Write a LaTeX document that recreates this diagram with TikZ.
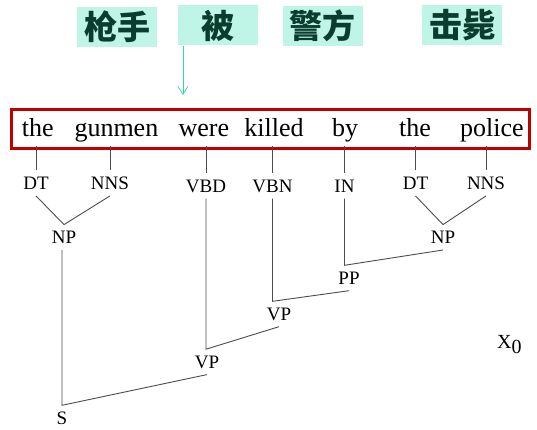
\documentclass[tikz,border=0pt]{standalone}
\usepackage{fontspec}
\setmainfont{Liberation Serif}
\newfontfamily\tms{Liberation Serif}
\newfontfamily\cjk{Noto Sans CJK SC}
\usetikzlibrary{arrows.meta,calc,positioning}
\definecolor{boxred}{HTML}{C00000}
\definecolor{zhfill}{HTML}{BFF5E6}
\definecolor{zhtext}{HTML}{0B3D2E}
\definecolor{zharrow}{HTML}{33D6A5}
\tikzset{
  word/.style={anchor=base,inner sep=0pt,text depth=9pt,font=\tms\fontsize{26}{28}\selectfont},
  tag/.style={anchor=base,inner xsep=1pt,inner ysep=6pt,text height=13pt,text depth=0pt,font=\tms\fontsize{19}{21}\selectfont},
  zh/.style={fill=zhfill,text=zhtext,minimum width=80pt,minimum height=40pt,inner sep=0pt,font=\cjk\bfseries\fontsize{33}{35}\selectfont},
  branch/.style={draw=black!70,line width=0.9pt}
}

\begin{document}
\begin{tikzpicture}[x=1pt,y=-1pt]
\useasboundingbox (0,0) rectangle (537,430);
% glosses
\node[zh] (Z1) at (117,27) {枪手}; \node[zh] (Z2) at (218,25.5) {被};
\node[zh] (Z3) at (322.5,26) {警方}; \node[zh] (Z4) at (462,25.5) {击毙};
\coordinate (tip) at (183,95);
\draw[zharrow,line width=0.7pt,-{Straight Barb[length=8pt,width=10pt]}] (Z2.south west -| tip) -- (tip);
% sentence
\node[draw=boxred,line width=3pt,minimum width=518pt,minimum height=39pt,inner sep=0pt] (sent) at (270.5,129.5) {};
\node[word] (w1) at (37.7,137) {the}; \node[word] (w2) at (116.4,137) {gunmen};
\node[word] (w3) at (203.8,137) {were}; \node[word] (w4) at (274,137) {killed};
\node[word] (w5) at (345,137) {by}; \node[word] (w6) at (415,137) {the};
\node[word] (w7) at (492,137) {police};
% tags
\node[tag] (t1) at (36,189.7) {DT}; \node[tag] (t2) at (110,189.7) {NNS};
\node[tag] (t3) at (206,192.5) {VBD}; \node[tag] (t4) at (272.5,192.5) {VBN};
\node[tag] (t5) at (344.5,192.5) {IN}; \node[tag] (t6) at (415.5,189.7) {DT};
\node[tag] (t7) at (486,189.7) {NNS};
\foreach \i in {1,...,7} \draw[branch] (t\i.north |- w\i.south) -- (t\i.north);
% phrases
\node[tag] (np1) at (64,243.8) {NP}; \node[tag] (np2) at (443,243.8) {NP};
\node[tag] (pp) at (349,284.5) {PP}; \node[tag] (vp1) at (279,320.5) {VP};
\node[tag] (vp2) at (207,368.4) {VP}; \node[tag] (s) at (62,424.5) {S};
\draw[branch] (t1.south) -- (np1.north) -- (t2.south);
\draw[branch] (t6.south) -- (np2.north) -- (t7.south);
\draw[branch] (t5.south) -- (t5.south |- pp.north) -- (np2.south);
\draw[branch] (t4.south) -- (t4.south |- vp1.north) -- (pp.south);
\draw[branch] (t3.south) -- (t3.south |- vp2.north) -- (vp1.south);
\draw[branch] (s.north |- np1.south) -- (s.north) -- (vp2.south);
\node[anchor=base west,inner sep=0pt,font=\tms\fontsize{20}{22}\selectfont] (x0) at (497,348) {X\raisebox{-5pt}{0}};
\end{tikzpicture}
\end{document}
